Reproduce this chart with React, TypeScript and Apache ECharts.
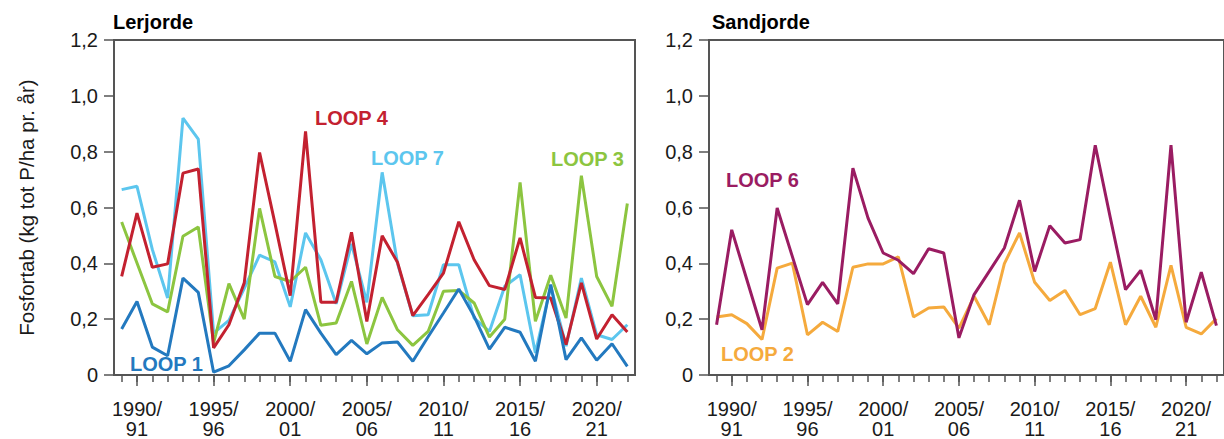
import React, { useEffect, useRef } from "react";
import * as echarts from "echarts";

const seasons: string[] = [
  "1989/90", "1990/91", "1991/92", "1992/93", "1993/94", "1994/95", "1995/96", "1996/97",
  "1997/98", "1998/99", "1999/00", "2000/01", "2001/02", "2002/03", "2003/04", "2004/05",
  "2005/06", "2006/07", "2007/08", "2008/09", "2009/10", "2010/11", "2011/12", "2012/13",
  "2013/14", "2014/15", "2015/16", "2016/17", "2017/18", "2018/19", "2019/20", "2020/21",
  "2021/22", "2022/23",
];

const yTicks = [0, 0.2, 0.4, 0.6, 0.8, 1.0, 1.2];

// Lerjorde
const loop1 = [0.165, 0.263, 0.1, 0.069, 0.347, 0.296, 0.01, 0.033, 0.09, 0.15, 0.15, 0.049, 0.234, 0.15, 0.073, 0.124,
  0.076, 0.115, 0.118, 0.049, 0.137, 0.222, 0.308, 0.21, 0.093, 0.171, 0.153, 0.049, 0.324, 0.055, 0.133, 0.053, 0.112, 0.031];
const loop7 = [0.664, 0.676, 0.45, 0.276, 0.92, 0.845, 0.15, 0.196, 0.31, 0.429, 0.405, 0.244, 0.509, 0.413, 0.255, 0.47,
  0.26, 0.726, 0.4, 0.212, 0.216, 0.395, 0.395, 0.204, 0.156, 0.318, 0.359, 0.079, 0.318, 0.103, 0.347, 0.144, 0.127, 0.18];
const loop4 = [0.353, 0.58, 0.386, 0.398, 0.723, 0.738, 0.097, 0.18, 0.33, 0.797, 0.544, 0.284, 0.873, 0.261, 0.261, 0.511,
  0.192, 0.499, 0.404, 0.213, 0.288, 0.365, 0.549, 0.413, 0.32, 0.306, 0.491, 0.278, 0.276, 0.109, 0.33, 0.129, 0.216, 0.154];
const loop3 = [0.548, 0.401, 0.255, 0.226, 0.497, 0.53, 0.115, 0.327, 0.2, 0.597, 0.353, 0.335, 0.386, 0.178, 0.186, 0.335,
  0.111, 0.278, 0.162, 0.106, 0.156, 0.3, 0.303, 0.258, 0.136, 0.2, 0.69, 0.192, 0.357, 0.204, 0.714, 0.353, 0.246, 0.614];

// Sandjorde
const loop6 = [0.18, 0.52, 0.341, 0.162, 0.598, 0.425, 0.252, 0.332, 0.255, 0.741, 0.562, 0.437, 0.411, 0.363, 0.452, 0.437,
  0.133, 0.288, 0.371, 0.455, 0.626, 0.371, 0.535, 0.473, 0.485, 0.823, 0.562, 0.306, 0.375, 0.198, 0.823, 0.189, 0.368, 0.177];
const loop2 = [0.208, 0.216, 0.184, 0.127, 0.383, 0.401, 0.144, 0.189, 0.156, 0.386, 0.398, 0.398, 0.423, 0.208, 0.24, 0.244,
  0.168, 0.282, 0.18, 0.399, 0.509, 0.332, 0.267, 0.303, 0.216, 0.238, 0.404, 0.18, 0.282, 0.171, 0.393, 0.171, 0.147, 0.202];

const C = {
  loop1: "#2379bf",
  loop7: "#5cc6ee",
  loop4: "#c32130",
  loop3: "#8cc540",
  loop6: "#9a1c62",
  loop2: "#f5aa3d",
};

const AX = "#555555";
const TXT = "#1a1a1a";
const FONT = "Liberation Sans, Arial, sans-serif";

function fmtY(v: number) {
  return v === 0 ? "0" : v.toFixed(1).replace(".", ",");
}

export default function App() {
  const ref = useRef<HTMLDivElement>(null);
  useEffect(() => {
    if (!ref.current) return;
    const chart = echarts.init(ref.current, undefined, { renderer: "svg" });

    const grids = [
      { left: 114, top: 40, width: 521, height: 335, show: true, borderColor: AX, borderWidth: 2, containLabel: false },
      { left: 709, top: 40, width: 521, height: 335, show: true, borderColor: AX, borderWidth: 2, containLabel: false },
    ];

    const mkX = (g: number) => [
      {
        type: "category",
        gridIndex: g,
        data: seasons,
        boundaryGap: true,
        position: "bottom",
        axisLine: { show: true, lineStyle: { color: AX, width: 2 } },
        axisTick: {
          show: true,
          alignWithLabel: true,
          interval: (i: number) => i % 5 === 1,
          length: 11,
          lineStyle: { color: AX, width: 1.5 },
        },
        axisLabel: {
          show: true,
          interval: (i: number) => i % 5 === 1,
          formatter: (v: string) => v.replace("/", "/\n"),
          fontSize: 20,
          lineHeight: 20,
          fontFamily: FONT,
          color: TXT,
          margin: 24,
        },
        splitLine: { show: false },
      },
      {
        type: "category",
        gridIndex: g,
        data: seasons,
        boundaryGap: true,
        position: "bottom",
        axisLine: { show: false },
        axisTick: {
          show: true,
          alignWithLabel: true,
          interval: 0,
          length: 7,
          lineStyle: { color: AX, width: 1.5 },
        },
        axisLabel: { show: false },
        splitLine: { show: false },
      },
    ];

    const mkY = (g: number, withName: boolean) => ({
      type: "value",
      gridIndex: g,
      min: yTicks[0],
      max: yTicks[yTicks.length - 1],
      interval: 0.2,
      name: withName ? "Fosfortab (kg tot P/ha pr. år)" : "",
      nameLocation: "middle",
      nameRotate: 90,
      nameGap: 77,
      nameTextStyle: { fontSize: 20.5, fontFamily: FONT, color: TXT },
      axisLine: { show: true, lineStyle: { color: AX, width: 2 } },
      axisTick: { show: true, inside: false, length: 10, lineStyle: { color: AX, width: 1.5 } },
      axisLabel: {
        formatter: fmtY,
        fontSize: 20,
        fontFamily: FONT,
        color: TXT,
        margin: 16,
      },
      splitLine: { show: false },
    });

    const line = (name: string, data: number[], color: string, xi: number, yi: number) => ({
      name,
      type: "line",
      data,
      xAxisIndex: xi,
      yAxisIndex: yi,
      symbol: "none",
      lineStyle: { color, width: 3 },
      itemStyle: { color },
    });

    const label = (text: string, x: number, y: number, color: string) => ({
      type: "text",
      x,
      y,
      style: {
        text,
        fill: color,
        font: `bold 20px ${FONT}`,
        align: "left",
        verticalAlign: "middle",
      },
    });

    chart.setOption({
      animation: false,
      backgroundColor: "#ffffff",
      grid: grids,
      xAxis: [...mkX(0), ...mkX(1)],
      yAxis: [mkY(0, true), mkY(1, false)],
      series: [
        line("LOOP 7", loop7, C.loop7, 0, 0),
        line("LOOP 3", loop3, C.loop3, 0, 0),
        line("LOOP 4", loop4, C.loop4, 0, 0),
        line("LOOP 1", loop1, C.loop1, 0, 0),
        line("LOOP 2", loop2, C.loop2, 2, 1),
        line("LOOP 6", loop6, C.loop6, 2, 1),
      ],
      graphic: [
        {
          type: "text",
          x: 113,
          y: 22,
          style: { text: "Lerjorde", fill: "#000", font: `bold 20px ${FONT}`, align: "left", verticalAlign: "middle" },
        },
        {
          type: "text",
          x: 712,
          y: 22,
          style: { text: "Sandjorde", fill: "#000", font: `bold 20px ${FONT}`, align: "left", verticalAlign: "middle" },
        },
        label("LOOP 4", 315, 118, C.loop4),
        label("LOOP 7", 371, 158, C.loop7),
        label("LOOP 3", 551, 159, C.loop3),
        label("LOOP 1", 130, 364, C.loop1),
        label("LOOP 6", 726, 180, C.loop6),
        label("LOOP 2", 721, 354, C.loop2),
      ],
    });

    return () => chart.dispose();
  }, []);

  return (
    <div
      ref={ref}
      style={{ position: "absolute", left: 0, top: 0, width: 1224, height: 439, background: "#fff" }}
    />
  );
}
